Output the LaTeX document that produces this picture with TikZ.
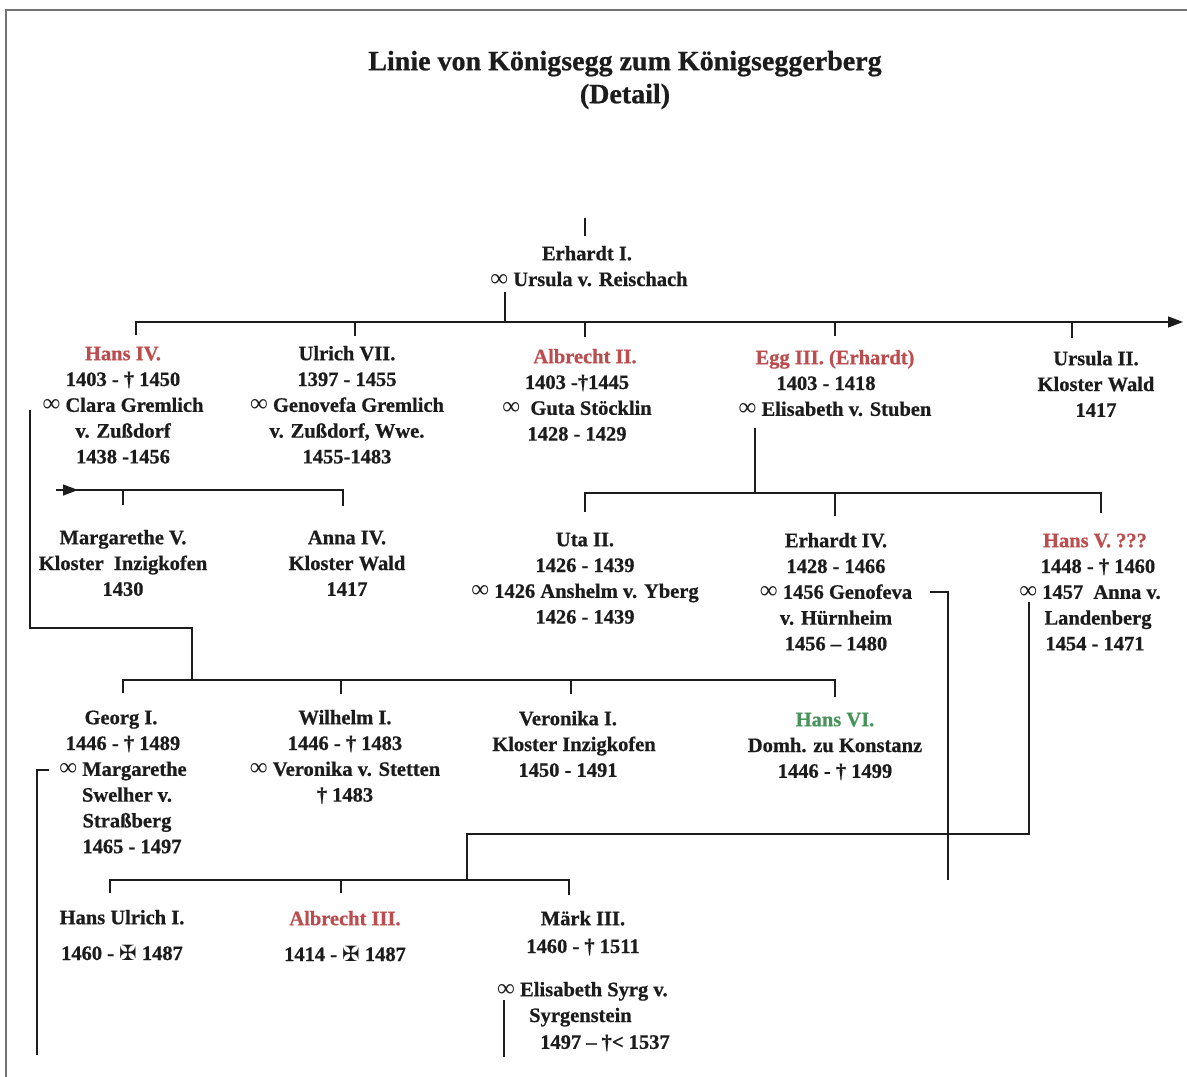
\documentclass[tikz,border=0pt]{standalone}
\usepackage{fontspec}
\setmainfont{Liberation Serif}[BoldFeatures={FakeBold=0.7}]
\newfontfamily\symfont{DejaVu Sans}
\usetikzlibrary{arrows.meta}
\definecolor{ink}{RGB}{28,28,28}
\definecolor{redname}{RGB}{188,76,78}
\definecolor{greenname}{RGB}{70,148,90}
\definecolor{framegray}{RGB}{115,115,115}
\newcommand{\rname}[1]{\textcolor{redname}{#1}}
\newcommand{\gname}[1]{\textcolor{greenname}{#1}}
\newcommand{\tp}{\rule{0pt}{16pt}}
\newcommand{\mcross}{{\symfont\fontsize{21}{21}\selectfont\char"2720}}
\newcommand{\mar}{{\fontsize{25}{25}\selectfont\mdseries ∞}}
\begin{document}
\begin{tikzpicture}[x=1pt,y=-1pt,
  body/.style={font=\fontsize{20.5}{25.8}\selectfont\bfseries, text=ink, inner sep=0pt},
  person/.style={body, align=center, anchor=north},
  ln/.style={draw=ink, line width=1.4pt},
  tip/.style={-{Triangle[length=15pt,width=11pt]}}]
\useasboundingbox (0,0) rectangle (1187,1077);
% page frame
\draw[framegray, line width=1.6pt] (6,1077) -- (6,10) -- (1187,10);

% title
\node[font=\fontsize{28}{33}\selectfont\bfseries, text=ink, align=center, inner sep=0pt] (title) at (625,80)
  {Linie von Königsegg zum Königseggerberg\\(Detail)};

% persons
\node[person] (erhardt1) at (587,244) {\tp Erhardt I.\\\hspace*{4pt}\mar\ Ursula v. Reischach};

\node[person] (hans4) at (123,344) {\tp\rname{Hans IV.}\\1403 - † 1450\\\mar\ Clara Gremlich\\v. Zußdorf\\1438 -1456};
\node[person] (ulrich7) at (347,344) {\tp Ulrich VII.\\1397 - 1455\\\mar\ Genovefa Gremlich\\v. Zußdorf, Wwe.\\1455-1483};
\node[person] (albrecht2) at (577,347) {\tp\hspace*{16pt}\rname{Albrecht II.}\\1403 -†1445\\\mar\ \ Guta Stöcklin\\1428 - 1429};
\node[person] (egg3) at (835,348) {\tp\rname{Egg III. (Erhardt)}\\\hspace*{-18pt}1403 - 1418\\\mar\ Elisabeth v. Stuben};
\node[person] (ursula2) at (1096,349) {\tp Ursula II.\\Kloster Wald\\1417};

\node[person] (marg5) at (123,528) {\tp Margarethe V.\\Kloster\ \ Inzigkofen\\1430};
\node[person] (anna4) at (347,528) {\tp Anna IV.\\Kloster Wald\\1417};
\node[person] (uta2) at (585,530) {\tp Uta II.\\1426 - 1439\\\mar\ 1426 Anshelm v. Yberg\\1426 - 1439};
\node[person] (erhardt4) at (836,531) {\tp Erhardt IV.\\1428 - 1466\\\mar\ 1456 Genofeva\\v. Hürnheim\\1456 – 1480};
\node[person] (hans5) at (1095,531) {\tp\rname{Hans V. ???}\\\hspace*{6pt}1448 - † 1460\\\hspace*{-10pt}\mar\ 1457\ \ Anna v.\\\hspace*{6pt}Landenberg\\1454 - 1471};

\node[person] (georg1) at (123,708) {\tp\hspace*{-4pt}Georg I.\\1446 - † 1489\\\mar\ Margarethe\\\hspace*{8pt}Swelher v.\\\hspace*{8pt}Straßberg\\\hspace*{18pt}1465 - 1497};
\node[person] (wilhelm1) at (345,708) {\tp Wilhelm I.\\1446 - † 1483\\\mar\ Veronika v. Stetten\\† 1483};
\node[person] (veronika1) at (574,709) {\tp\hspace*{-12pt}Veronika I.\\Kloster Inzigkofen\\\hspace*{-12pt}1450 - 1491};
\node[person] (hans6) at (835,710) {\tp\gname{Hans VI.}\\Domh. zu Konstanz\\1446 - † 1499};

\node[person] (hansulrich1) at (122,908) {\tp Hans Ulrich I.\\[10pt]1460 - \mcross\ 1487};
\node[person] (albrecht3) at (345,909) {\tp\rname{Albrecht III.}\\[10pt]1414 - \mcross\ 1487};
\node[person] (maerk3) at (583,909) {\tp Märk III.\\[2pt]1460 - † 1511};
\node[body, align=left, anchor=north west] (maerkspouse) at (497,980)
  {\tp\mar\ Elisabeth Syrg v.\\\hspace*{32pt}Syrgenstein\\[1pt]\hspace*{43pt}1497 – †< 1537};

% coordinates of the connector lines
\coordinate (c0a) at (585,218); \coordinate (c0b) at (585,236);
\coordinate (c1) at (505,292); \coordinate (b1) at (505,322);
\coordinate (b1l) at (136,322); \coordinate (b1r) at (1183,322);
\coordinate (t1a) at (136,335);
\coordinate (t1b) at (355,322); \coordinate (t1bb) at (355,336);
\coordinate (t1c) at (585,322); \coordinate (t1cb) at (585,337);
\coordinate (t1d) at (835,322); \coordinate (t1db) at (835,336);
\coordinate (t1e) at (1072,322); \coordinate (t1eb) at (1072,338);

\coordinate (e3) at (755,428); \coordinate (b2) at (755,493);
\coordinate (b2l) at (585,493); \coordinate (b2la) at (585,512);
\coordinate (b2r) at (1101,493); \coordinate (b2ra) at (1101,513);
\coordinate (b2m) at (835,493); \coordinate (b2ma) at (835,516);

\coordinate (lb0) at (56,490); \coordinate (lbh) at (78,490);
\coordinate (lbr) at (343,490); \coordinate (lbra) at (343,506);
\coordinate (lbm) at (123,490); \coordinate (lbma) at (123,505);

\coordinate (h4a) at (30,410); \coordinate (h4b) at (30,628);
\coordinate (h4c) at (192,628); \coordinate (b3) at (192,680);
\coordinate (b3l) at (123,680); \coordinate (b3la) at (123,693);
\coordinate (b3r) at (835,680); \coordinate (b3ra) at (835,697);
\coordinate (b3m1) at (341,680); \coordinate (b3m1a) at (341,694);
\coordinate (b3m2) at (571,680); \coordinate (b3m2a) at (571,694);

\coordinate (g1a) at (49,770); \coordinate (g1b) at (37,770); \coordinate (g1c) at (37,1055);
\coordinate (e4a) at (930,592); \coordinate (e4b) at (948,592); \coordinate (e4c) at (948,880);
\coordinate (h5a) at (1029,602); \coordinate (h5b) at (1029,834);
\coordinate (h5c) at (467,834); \coordinate (b4) at (467,880);
\coordinate (b4l) at (110,880); \coordinate (b4la) at (110,893);
\coordinate (b4r) at (569,880); \coordinate (b4ra) at (569,895);
\coordinate (b4m) at (341,880); \coordinate (b4ma) at (341,893);
\coordinate (m3a) at (504,1000); \coordinate (m3b) at (504,1057);

% connectors
\draw[ln] (c0a) -- (c0b);
\draw[ln] (c1) -- (b1);
\draw[ln, tip] (t1a) -- (b1l) -- (b1r);
\draw[ln] (t1b) -- (t1bb);
\draw[ln] (t1c) -- (t1cb);
\draw[ln] (t1d) -- (t1db);
\draw[ln] (t1e) -- (t1eb);

\draw[ln] (e3) -- (b2);
\draw[ln] (b2la) -- (b2l) -- (b2r) -- (b2ra);
\draw[ln] (b2m) -- (b2ma);

\draw[ln] (lb0) -- (lbr) -- (lbra);
\draw[ln, tip] (lb0) -- (lbh);
\draw[ln] (lbm) -- (lbma);

\draw[ln] (h4a) -- (h4b) -- (h4c) -- (b3);
\draw[ln] (b3la) -- (b3l) -- (b3r) -- (b3ra);
\draw[ln] (b3m1) -- (b3m1a);
\draw[ln] (b3m2) -- (b3m2a);

\draw[ln] (g1a) -- (g1b) -- (g1c);
\draw[ln] (e4a) -- (e4b) -- (e4c);
\draw[ln] (h5a) -- (h5b) -- (h5c) -- (b4);
\draw[ln] (b4la) -- (b4l) -- (b4r) -- (b4ra);
\draw[ln] (b4m) -- (b4ma);
\draw[ln] (m3a) -- (m3b);
\end{tikzpicture}
\end{document}
